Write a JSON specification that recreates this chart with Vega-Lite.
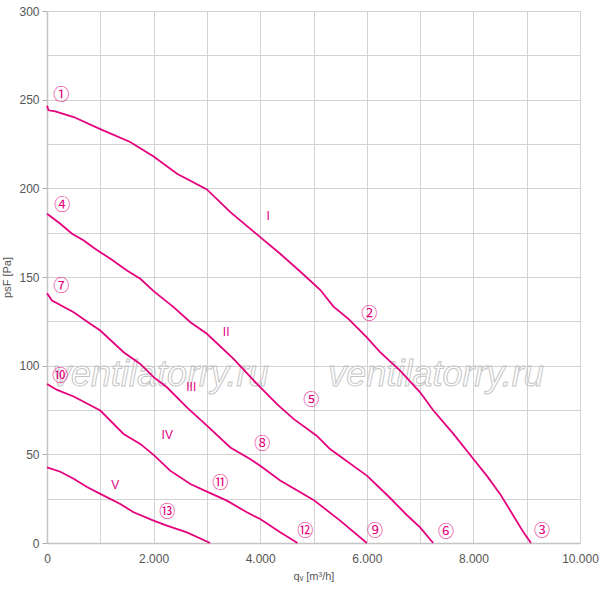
{
  "$schema": "https://vega.github.io/schema/vega-lite/v6.json",
  "width": 533,
  "height": 532,
  "autosize": {"type": "none"},
  "padding": {"left": 47, "top": 11, "right": 20, "bottom": 47},
  "background": "white",
  "config": {
    "view": {"stroke": null},
    "font": "Liberation Sans",
    "axis": {
      "labelFont": "Liberation Sans",
      "titleFont": "Liberation Sans",
      "labelFontSize": 12,
      "labelColor": "#555555",
      "titleColor": "#555555",
      "titleFontSize": 11,
      "titleFontWeight": "normal",
      "gridColor": "#d2d2d2",
      "gridWidth": 1,
      "domainColor": "#c4c4c4",
      "domainWidth": 1.5,
      "tickColor": "#b0b0b0"
    }
  },
  "datasets": {
    "curves": [
      {"curve": "I", "q": 0, "p": 246.5}, {"curve": "I", "q": 30, "p": 244}, {"curve": "I", "q": 155, "p": 243.4},
      {"curve": "I", "q": 500, "p": 240.2}, {"curve": "I", "q": 1000, "p": 233.4}, {"curve": "I", "q": 1560, "p": 226.1},
      {"curve": "I", "q": 2000, "p": 218}, {"curve": "I", "q": 2440, "p": 208.2}, {"curve": "I", "q": 3000, "p": 199.4},
      {"curve": "I", "q": 3440, "p": 186.6}, {"curve": "I", "q": 4000, "p": 172.5}, {"curve": "I", "q": 4375, "p": 163.1},
      {"curve": "I", "q": 4750, "p": 153.1}, {"curve": "I", "q": 5125, "p": 142.8}, {"curve": "I", "q": 5375, "p": 133.3},
      {"curve": "I", "q": 5655, "p": 126.4}, {"curve": "I", "q": 6000, "p": 116}, {"curve": "I", "q": 6250, "p": 107.6},
      {"curve": "I", "q": 6625, "p": 97.2}, {"curve": "I", "q": 7000, "p": 85}, {"curve": "I", "q": 7250, "p": 74.7},
      {"curve": "I", "q": 7625, "p": 61.5}, {"curve": "I", "q": 8000, "p": 47.4}, {"curve": "I", "q": 8250, "p": 38},
      {"curve": "I", "q": 8500, "p": 27.7}, {"curve": "I", "q": 8750, "p": 15.4}, {"curve": "I", "q": 8940, "p": 6},
      {"curve": "I", "q": 9080, "p": 0},
      {"curve": "II", "q": 0, "p": 185.7}, {"curve": "II", "q": 250, "p": 180}, {"curve": "II", "q": 470, "p": 174.4},
      {"curve": "II", "q": 690, "p": 170.6}, {"curve": "II", "q": 875, "p": 166.5}, {"curve": "II", "q": 1000, "p": 164},
      {"curve": "II", "q": 1190, "p": 160.3}, {"curve": "II", "q": 1500, "p": 153.7}, {"curve": "II", "q": 1750, "p": 149},
      {"curve": "II", "q": 2000, "p": 142}, {"curve": "II", "q": 2375, "p": 133}, {"curve": "II", "q": 2690, "p": 124.5},
      {"curve": "II", "q": 3000, "p": 118}, {"curve": "II", "q": 3500, "p": 103.8}, {"curve": "II", "q": 3940, "p": 89.7},
      {"curve": "II", "q": 4310, "p": 78.4}, {"curve": "II", "q": 4625, "p": 70}, {"curve": "II", "q": 5060, "p": 60.5},
      {"curve": "II", "q": 5310, "p": 53}, {"curve": "II", "q": 6000, "p": 38}, {"curve": "II", "q": 6400, "p": 26.5},
      {"curve": "II", "q": 6750, "p": 15.8}, {"curve": "II", "q": 7000, "p": 8.8}, {"curve": "II", "q": 7245, "p": 0},
      {"curve": "III", "q": 0, "p": 140.9}, {"curve": "III", "q": 94, "p": 136.7}, {"curve": "III", "q": 500, "p": 130.1},
      {"curve": "III", "q": 810, "p": 123.6}, {"curve": "III", "q": 1000, "p": 119.8}, {"curve": "III", "q": 1437, "p": 107.6},
      {"curve": "III", "q": 1750, "p": 101}, {"curve": "III", "q": 2000, "p": 93.5}, {"curve": "III", "q": 2250, "p": 87.8},
      {"curve": "III", "q": 2625, "p": 76.5}, {"curve": "III", "q": 3000, "p": 66.2}, {"curve": "III", "q": 3440, "p": 53.9},
      {"curve": "III", "q": 3810, "p": 47.4}, {"curve": "III", "q": 4000, "p": 43.6}, {"curve": "III", "q": 4375, "p": 35.2},
      {"curve": "III", "q": 5000, "p": 24.3}, {"curve": "III", "q": 5500, "p": 12.6}, {"curve": "III", "q": 6000, "p": 0},
      {"curve": "IV", "q": 0, "p": 89.7}, {"curve": "IV", "q": 190, "p": 86.3}, {"curve": "IV", "q": 500, "p": 82.6},
      {"curve": "IV", "q": 1000, "p": 74.7}, {"curve": "IV", "q": 1437, "p": 61.5}, {"curve": "IV", "q": 1750, "p": 55.9},
      {"curve": "IV", "q": 2000, "p": 49.7}, {"curve": "IV", "q": 2310, "p": 40.8}, {"curve": "IV", "q": 2690, "p": 33.3},
      {"curve": "IV", "q": 3000, "p": 29}, {"curve": "IV", "q": 3375, "p": 23.9}, {"curve": "IV", "q": 3750, "p": 17.3},
      {"curve": "IV", "q": 4000, "p": 13.5}, {"curve": "IV", "q": 4375, "p": 6}, {"curve": "IV", "q": 4700, "p": 0},
      {"curve": "V", "q": 0, "p": 42.7}, {"curve": "V", "q": 250, "p": 40.2}, {"curve": "V", "q": 500, "p": 36.2},
      {"curve": "V", "q": 750, "p": 31.6}, {"curve": "V", "q": 1000, "p": 27.7}, {"curve": "V", "q": 1375, "p": 22},
      {"curve": "V", "q": 1625, "p": 17.3}, {"curve": "V", "q": 2000, "p": 12.6}, {"curve": "V", "q": 2250, "p": 9.8},
      {"curve": "V", "q": 2625, "p": 6}, {"curve": "V", "q": 3060, "p": 0}
    ],
    "points": [
      {"label": "①", "q": 268, "p": 252.4}, {"label": "②", "q": 6047, "p": 129.4}, {"label": "③", "q": 9288, "p": 6.9},
      {"label": "④", "q": 287, "p": 190.8}, {"label": "⑤", "q": 4957, "p": 80.9}, {"label": "⑥", "q": 7487, "p": 6.4},
      {"label": "⑦", "q": 268, "p": 145.2}, {"label": "⑧", "q": 4038, "p": 56}, {"label": "⑨", "q": 6156, "p": 6.9},
      {"label": "⑩", "q": 249, "p": 94.4}, {"label": "⑪", "q": 3250, "p": 34}, {"label": "⑫", "q": 4844, "p": 6.9},
      {"label": "⑬", "q": 2256, "p": 17.6}
    ],
    "roman": [
      {"label": "I", "q": 4149, "p": 184.2}, {"label": "II", "q": 3362, "p": 119.2}, {"label": "III", "q": 2706, "p": 87.7},
      {"label": "IV", "q": 2256, "p": 61.1}, {"label": "V", "q": 1281, "p": 32.9}
    ],
    "watermark": [
      {"text": "ventilatorry.ru", "q": 2134, "p": 88.8},
      {"text": "ventilatorry.ru", "q": 7299, "p": 88.8}
    ]
  },
  "layer": [
    {
      "data": {"name": "watermark"},
      "mark": {"type": "text", "font": "Liberation Sans", "fontStyle": "italic", "fontSize": 36, "fill": "transparent", "stroke": "#c6c6c6", "strokeWidth": 1, "align": "center", "baseline": "alphabetic"},
      "encoding": {
        "x": {"field": "q", "type": "quantitative", "scale": {"domain": [0, 10000], "nice": false},
          "axis": {"values": [0, 1000, 2000, 3000, 4000, 5000, 6000, 7000, 8000, 9000, 10000],
            "labelExpr": "datum.value % 2000 === 0 ? replace(format(datum.value, ','), ',', '.') : ''",
            "ticks": false, "labelPadding": 10, "title": "qᵥ [m³/h]", "titlePadding": 6, "labelFlush": false, "labelOverlap": false}},
        "y": {"field": "p", "type": "quantitative", "scale": {"domain": [0, 300], "nice": false},
          "axis": {"values": [0, 25, 50, 75, 100, 125, 150, 175, 200, 225, 250, 275, 300],
            "labelExpr": "datum.value % 50 === 0 ? datum.label : ''",
            "tickSize": 5, "tickOpacity": {"condition": {"test": "datum.value % 50 === 0", "value": 1}, "value": 0},
            "labelPadding": 3, "title": "psF [Pa]", "titlePadding": 6, "labelOverlap": false}},
        "text": {"field": "text"}
      }
    },
    {
      "data": {"name": "curves"},
      "mark": {"type": "line", "color": "#e5007d", "strokeWidth": 1.8},
      "encoding": {
        "x": {"field": "q", "type": "quantitative"},
        "y": {"field": "p", "type": "quantitative"},
        "detail": {"field": "curve"},
        "order": {"field": "q"}
      }
    },
    {
      "data": {"name": "points"},
      "mark": {"type": "text", "font": "Noto Sans CJK JP", "fontSize": 16, "color": "#e5007d", "align": "center", "baseline": "middle"},
      "encoding": {
        "x": {"field": "q", "type": "quantitative"},
        "y": {"field": "p", "type": "quantitative"},
        "text": {"field": "label"}
      }
    },
    {
      "data": {"name": "roman"},
      "mark": {"type": "text", "font": "Liberation Sans", "fontSize": 12, "color": "#e5007d", "align": "center", "baseline": "middle"},
      "encoding": {
        "x": {"field": "q", "type": "quantitative"},
        "y": {"field": "p", "type": "quantitative"},
        "text": {"field": "label"}
      }
    }
  ]
}
